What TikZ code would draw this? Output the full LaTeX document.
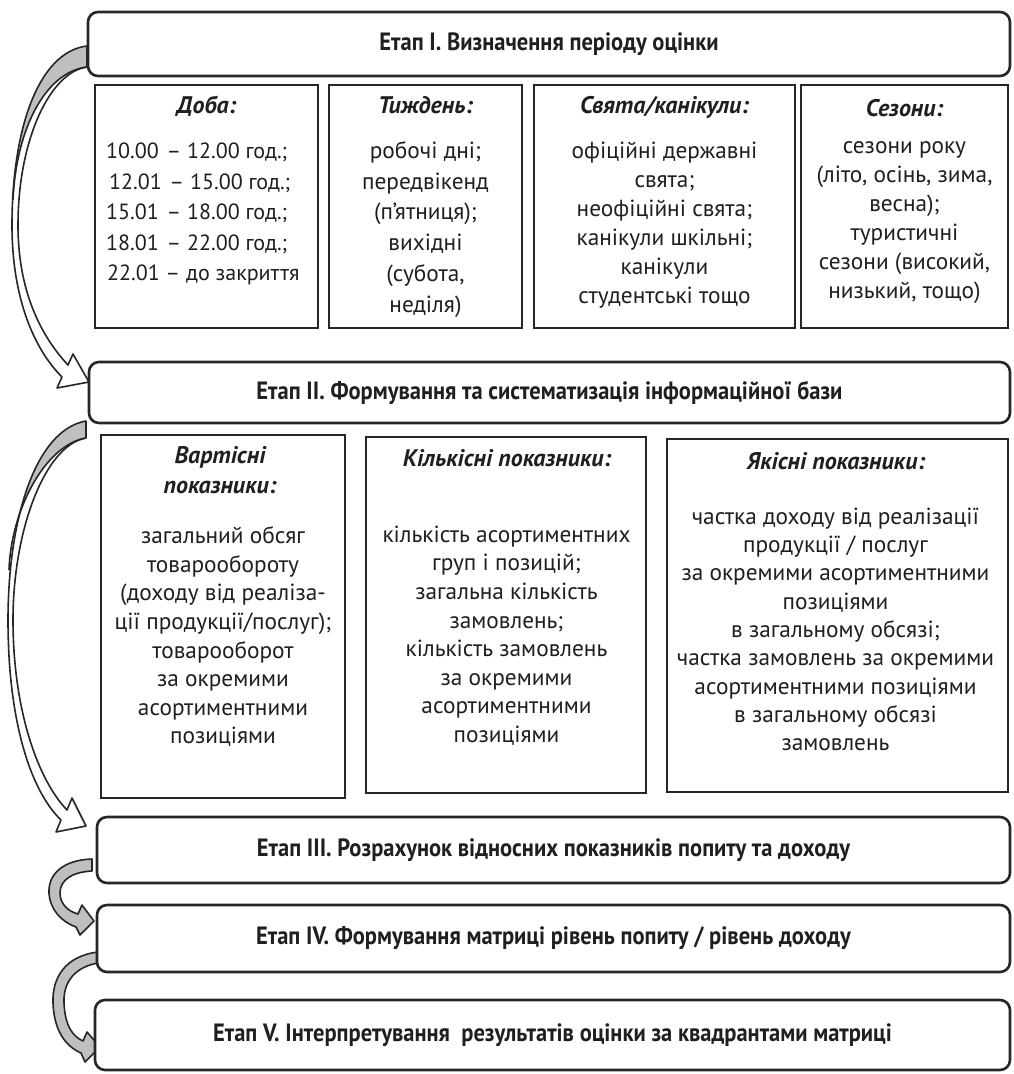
\documentclass[tikz,border=0pt]{standalone}
\usepackage{fontspec}
\setmainfont{PT Sans}
\newfontfamily\stagefont[FakeStretch=0.9]{PT Sans}
\usetikzlibrary{calc}
\begin{document}
\begin{tikzpicture}[x=1pt,y=-1pt,
  stagebox/.style={draw=black!85, line width=2.6pt, rounded corners=10pt, fill=white, inner sep=0pt, text=black!88, font=\stagefont\bfseries\fontsize{25}{29}\selectfont},
  subbox/.style={draw=black!85, line width=2.8pt, fill=white, inner sep=0pt},
  ttl/.style={anchor=base, inner sep=0pt, text=black!88, font=\bfseries\itshape\fontsize{24}{30}\selectfont},
  bodytxt/.style={anchor=north, inner sep=0pt, align=center, text=black!88},
  arrowline/.style={draw=black!85, line width=1.6pt, line join=round},
  arrowgray/.style={fill=gray!50}
]
\useasboundingbox (0,0) rectangle (1014,1074);

% ---------- block arrows (drawn first, boxes on top) ----------
\def\arrowApath{(87,46) .. controls (38,52) and (12,130) .. (12,225) .. controls (12,300) and (35,350) .. (62,377) -- (57,388) -- (89,382) -- (73,354) -- (68,365) .. controls (40,335) and (18,290) .. (18,225) .. controls (18,140) and (50,72) .. (87,67) -- cycle}
\fill[white] \arrowApath;
\begin{scope}
  \clip \arrowApath;
  \fill[arrowgray] (87,67) .. controls (45,72) and (16,130) .. (13,200) -- (0,200) -- (0,30) -- (95,30) -- cycle;
\end{scope}
\draw[arrowline] \arrowApath;
\draw[arrowline] (87,67) .. controls (45,72) and (16,130) .. (13,200);

\def\arrowBpath{(86,421) .. controls (35,430) and (8,520) .. (8,620) .. controls (8,720) and (30,790) .. (61,820) -- (56,832) -- (86,826) -- (72,798) -- (67,810) .. controls (38,780) and (13,710) .. (13,620) .. controls (13,530) and (45,445) .. (86,438) -- cycle}
\fill[white] \arrowBpath;
\begin{scope}
  \clip \arrowBpath;
  \fill[arrowgray] (86,438) .. controls (45,445) and (11,510) .. (9,570) -- (0,570) -- (0,410) -- (95,410) -- cycle;
\end{scope}
\draw[arrowline] \arrowBpath;
\draw[arrowline] (86,438) .. controls (45,445) and (11,510) .. (9,570);

\draw[arrowline, arrowgray] (92,859) .. controls (62,860) and (48,875) .. (49,893) .. controls (50,910) and (62,922) .. (76,927) -- (80,935) -- (94,921) -- (82,905) -- (78,914) .. controls (67,911) and (60,903) .. (60,893) .. controls (60,880) and (72,872) .. (92,871) -- cycle;

\draw[arrowline, arrowgray] (98,952) .. controls (65,956) and (52,978) .. (53,1003) .. controls (54,1030) and (65,1046) .. (81,1053) -- (85,1062) -- (100,1047) -- (87,1032) -- (83,1041) .. controls (72,1036) and (65,1025) .. (64,1003) .. controls (63,982) and (75,967) .. (98,963) -- cycle;

% ---------- stage boxes ----------
\node[stagebox, minimum width=922pt, minimum height=64pt] (s1) at (549,44) {Етап I. Визначення періоду оцінки};
\node[stagebox, minimum width=921pt, minimum height=61pt] (s2) at (549.5,392.5) {Етап II. Формування та систематизація інформаційної бази};
\node[stagebox, minimum width=913pt, minimum height=66pt] (s3) at (553.5,850) {Етап III. Розрахунок відносних показників попиту та доходу};
\node[stagebox, minimum width=913pt, minimum height=67pt] (s4) at (553.5,938.5) {Етап IV. Формування матриці рівень попиту / рівень доходу};
\node[stagebox, minimum width=915pt, minimum height=70pt] (s5) at (552.5,1035) {Етап V. Інтерпретування~ результатів оцінки за квадрантами матриці};

% ---------- row 1 boxes ----------
\node[subbox, minimum width=223pt, minimum height=243pt] (doba) at (206.5,206.5) {};
\node[subbox, minimum width=193pt, minimum height=243pt] (tyzh) at (425.5,206.5) {};
\node[subbox, minimum width=261pt, minimum height=243pt] (svyata) at (664.5,206.5) {};
\node[subbox, minimum width=207pt, minimum height=243pt] (sezony) at (904.5,206.5) {};

\node[ttl] (dobat) at (206.5,113) {Доба:};
\node[ttl] (tyzht) at (425.5,113) {Тиждень:};
\node[ttl] (svyatat) at (664.5,113) {Свята/канікули:};
\node[ttl] (sezonyt) at (904.5,116) {Сезони:};

\node[bodytxt, anchor=north west, align=left, font=\fontsize{22}{30.5}\selectfont] (dobab) at (106,134.4)
  {\rule{0pt}{24pt}10.00\hspace{2pt} – 12.00 год.;\\\hspace*{3pt}12.01\hspace{2pt} – 15.00 год.;\\15.01\hspace{2pt} – 18.00 год.;\\18.01\hspace{2pt} – 22.00 год.;\\\hspace*{1pt}22.01 – до закриття};
\node[bodytxt, font=\fontsize{23.3}{30.8}\selectfont] (tyzhb) at (425.5,134)
  {\rule{0pt}{24pt}робочі дні;\\передвікенд\\(п’ятниця);\\вихідні\\(субота,\\неділя)};
\node[bodytxt, font=\fontsize{23.3}{29}\selectfont] (svyatab) at (664.5,134)
  {\rule{0pt}{24pt}офіційні державні\\свята;\\неофіційні свята;\\канікули шкільні;\\канікули\\студентські тощо};
\node[bodytxt, font=\fontsize{23.3}{29}\selectfont] (sezonyb) at (904.5,129)
  {\rule{0pt}{24pt}сезони року\\(літо, осінь, зима,\\весна);\\туристичні\\сезони (високий,\\низький, тощо)};

% ---------- row 2 boxes ----------
\node[subbox, minimum width=244pt, minimum height=363pt] (vart) at (223,616.5) {};
\node[subbox, minimum width=280pt, minimum height=356pt] (kilk) at (506,615) {};
\node[subbox, minimum width=341pt, minimum height=353pt] (yak) at (837.5,615.5) {};

\node[bodytxt, font=\bfseries\itshape\fontsize{24}{30}\selectfont] (vartt) at (220,439)
  {\rule{0pt}{24pt}Вартісні\\показники:};
\node[ttl] (kilkt) at (507,466) {Кількісні показники:};
\node[ttl] (yakt) at (836,469) {Якісні показники:};

\node[bodytxt, font=\fontsize{23.3}{28.6}\selectfont] (vartb) at (223,519.5)
  {\rule{0pt}{24pt}загальний обсяг\\товарообороту\\(доходу від реаліза-\\ції продукції/послуг);\\товарооборот\\за окремими\\асортиментними\\позиціями};
\node[bodytxt, font=\fontsize{23.3}{28.6}\selectfont] (kilkb) at (506.5,518)
  {\rule{0pt}{24pt}кількість асортиментних\\груп і позицій;\\загальна кількість\\замовлень;\\кількість замовлень\\за окремими\\асортиментними\\позиціями};
\node[bodytxt, font=\fontsize{23.3}{28.3}\selectfont] (yakb) at (835.5,500)
  {\rule{0pt}{24pt}частка доходу від реалізації\\продукції / послуг\\за окремими асортиментними\\позиціями\\в загальному обсязі;\\частка замовлень за окремими\\асортиментними позиціями\\в загальному обсязі\\замовлень};
\end{tikzpicture}
\end{document}
